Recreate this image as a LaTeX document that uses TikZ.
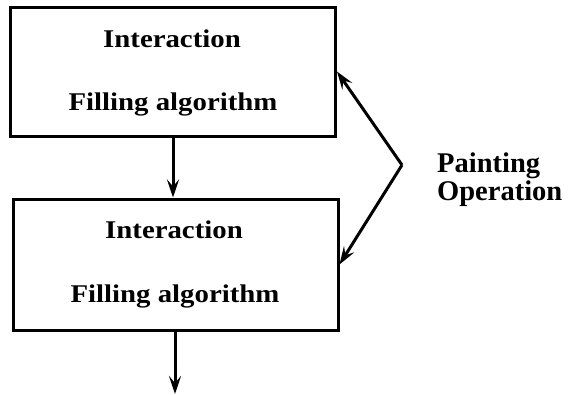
\documentclass[tikz,border=0pt]{standalone}
\usepackage{fontspec}
\setmainfont{Liberation Serif}
\newfontfamily\boxfont[FakeStretch=1.13]{Liberation Serif Bold}
\newfontfamily\labelfont{Liberation Serif Bold}
\usetikzlibrary{arrows.meta}
\tikzset{
  stage/.style={draw, line width=3pt, rectangle, inner sep=0pt, minimum width=325pt},
  stagetext/.style={font=\boxfont\fontsize{25.5}{28}\selectfont, anchor=base, inner sep=0pt},
  flow/.style={line width=3pt, -{Stealth[length=18pt,width=12pt,inset=7pt]}},
}
\begin{document}
\begin{tikzpicture}[x=1pt, y=-1pt]
  \useasboundingbox (0,0) rectangle (568,394);
  % the two processing stages
  \node[stage, minimum height=129pt] (b1) at (173,71.5) {};
  \node[stage, minimum height=131pt] (b2) at (175.5,264.5) {};
  \node[stagetext] (t1a) at (172,47) {Interaction};
  \node[stagetext] (t1b) at (173,110) {Filling algorithm};
  \node[stagetext] (t2a) at (174,238) {Interaction};
  \node[stagetext] (t2b) at (175,302) {Filling algorithm};
  % flow between the stages
  \draw[flow] (b1.south -| 173,0) -- (b2.north -| 173,0);
  \coordinate (out) at (175,394);
  \draw[flow] (b2.south -| out) -- (out);
  % painting operation acting on both stages
  \coordinate (apex) at (402,165);
  \draw[flow] (apex) -- (b1.east);
  \draw[flow] (apex) -- (b2.east);
  \node[anchor=base west, inner sep=0pt, align=left,
        font=\labelfont\fontsize{28.5}{25}\selectfont] (lbl) at (437,200) {Painting\\Operation};
\end{tikzpicture}
\end{document}
